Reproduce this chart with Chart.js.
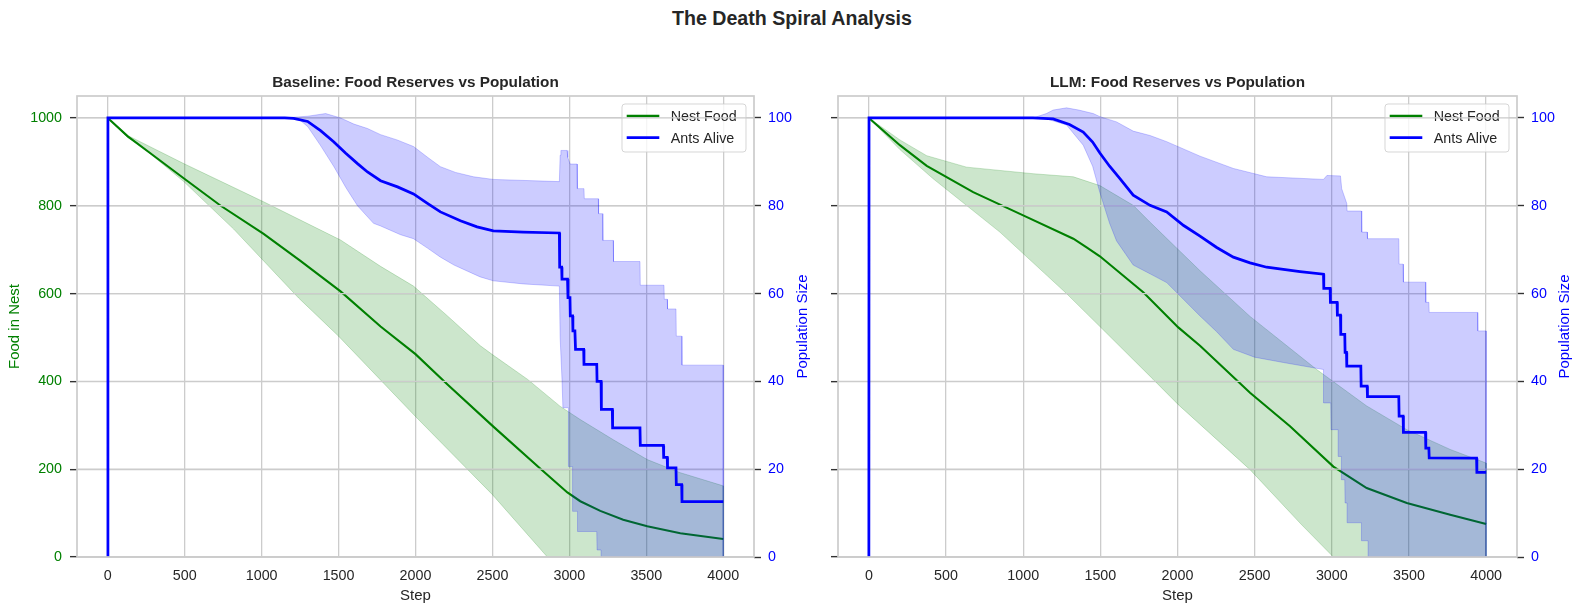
<!DOCTYPE html>
<html>
<head>
<meta charset="utf-8">
<script src="https://cdn.jsdelivr.net/npm/chart.js@4.4.0/dist/chart.umd.min.js"></script>
<style>
  html, body { margin: 0; padding: 0; background: #fff; }
  body { width: 1584px; height: 614px; position: relative; overflow: hidden; font-family: "Liberation Sans", Arial, sans-serif; }
  #suptitle { position: absolute; left: 0; top: 5px; width: 1584px; text-align: center; font-weight: bold; font-size: 19.6px; line-height: 26px; color: #262626; }
  .panel { position: absolute; top: 60px; height: 554px; }
  #leftWrap { left: 0; width: 815px; }
  #rightWrap { left: 815px; width: 769px; }
</style>
</head>
<body>
<div id="suptitle">The Death Spiral Analysis</div>
<div class="panel" id="leftWrap"><canvas id="baseline" width="815" height="554"></canvas></div>
<div class="panel" id="rightWrap"><canvas id="llm" width="769" height="554"></canvas></div>
<script>
// axis ticks
var xTicks = [0, 500, 1000, 1500, 2000, 2500, 3000, 3500, 4000];
var foodTicks = [0, 200, 400, 600, 800, 1000];
var popTicks = [0, 20, 40, 60, 80, 100];

// Baseline run: [step, value]
var baseFoodMean = [[0,1000],[130,958],[279,919],[500,861],[734,800],[1013,736],[1250,675],[1513,605],[1773,525],[2000,462],[2208,393],[2506,297],[2812,201],[2941,161],[2987,147],[3071,127],[3201,105],[3350,85],[3506,70],[3721,54],[4000,41]];
var baseFoodUpper = [[0,1000],[130,960],[500,895],[1013,809],[1513,722],[1773,662],[1987,617],[2208,549],[2422,481],[2500,461],[2727,405],[2941,343],[3071,313],[3286,267],[3506,222],[3721,192],[4000,162]];
var baseFoodLower = [[0,1000],[130,955],[195,942],[494,855],[818,747],[1240,590],[1500,503],[2000,320],[2500,142],[2857,0],[4000,0]];
var basePopMean = [[0,0],[1,100],[1150,100],[1208,99.9],[1299,99.2],[1383,97.1],[1468,94.6],[1545,92],[1623,89.6],[1688,87.7],[1773,85.7],[1883,84.3],[1987,82.7],[2080,80.5],[2162,78.6],[2292,76.6],[2400,75.2],[2506,74.3],[2700,74],[2935,73.8],[2937,66],[2950,66],[2952,63.3],[2988,63.3],[2991,59.1],[3004,59.1],[3006,54.9],[3021,54.9],[3023,51.5],[3036,51.5],[3040,47.3],[3093,47.3],[3095,43.9],[3178,43.9],[3180,40],[3206,40],[3208,33.6],[3279,33.6],[3281,29.4],[3459,29.4],[3461,25.4],[3611,25.4],[3613,22.7],[3636,22.7],[3638,20.3],[3693,20.3],[3695,16.5],[3730,16.5],[3732,12.6],[4000,12.6]];
var basePopUpper = [[1,100],[1150,100],[1300,100.4],[1416,101],[1513,100],[1600,98.6],[1688,97.6],[1773,96.2],[1880,95],[1987,93.5],[2080,91],[2162,88.9],[2260,87.6],[2377,86.6],[2506,86],[2935,85.5],[2940,91.5],[2945,92.6],[2985,92.6],[2990,91],[3005,89.5],[3050,89.5],[3052,83.9],[3095,83.9],[3097,81.6],[3188,81.6],[3190,78.2],[3215,78.2],[3218,72.1],[3285,72.1],[3287,67.3],[3459,67.3],[3461,61.9],[3615,61.9],[3617,58.7],[3636,58.7],[3638,56.5],[3693,56.5],[3695,50.3],[3730,50.3],[3732,43.7],[4000,43.7]];
var basePopLower = [[1,100],[1150,100],[1250,99.5],[1300,98],[1383,93.7],[1468,89],[1550,84],[1623,80],[1727,76],[1773,75.4],[1903,73.4],[1987,72.5],[2080,70.3],[2162,68.3],[2250,66.5],[2338,65.1],[2420,63.8],[2506,62.9],[2700,62.2],[2935,61.7],[2940,50],[2952,40.5],[2958,34],[2994,34],[2996,20.6],[3021,20.6],[3023,10.4],[3053,10.4],[3055,5.8],[3178,5.8],[3180,1.6],[3206,1.6],[3208,0],[4000,0]];

// LLM run
var llmFoodMean = [[0,1000],[201,938],[375,891],[676,831],[1000,778],[1325,725],[1411,705],[1497,685],[1778,603],[2005,523],[2146,481],[2470,374],[2729,298],[3010,206],[3226,157],[3486,123],[3767,96],[4000,75]];
var llmFoodUpper = [[0,1000],[201,950],[375,914],[633,888],[1064,873],[1325,866],[1497,846],[1713,801],[1821,763],[2146,652],[2470,548],[2902,427],[3226,344],[3486,290],[3767,245],[4000,214]];
var llmFoodLower = [[0,1000],[201,928],[415,862],[849,740],[1281,600],[1497,525],[1841,405],[2005,347],[2470,199],[2800,75],[3010,0],[4000,0]];
var llmPopMean = [[0,0],[1,100],[1064,100],[1194,99.8],[1300,98.5],[1389,96.8],[1450,94.5],[1497,92],[1560,89],[1627,86.2],[1713,82.4],[1822,80.1],[1930,78.6],[2040,75.5],[2146,73.1],[2254,70.5],[2362,68.3],[2470,67],[2578,66],[2794,65],[2946,64.4],[2948,61.2],[2989,61.2],[2991,58],[3034,58],[3036,55.1],[3056,55.1],[3058,50.7],[3084,50.7],[3086,46.6],[3095,46.6],[3097,43.5],[3188,43.5],[3190,38.9],[3229,38.9],[3231,36.5],[3434,36.5],[3436,32.1],[3462,32.1],[3464,28.4],[3607,28.4],[3609,24.8],[3629,24.8],[3631,22.6],[3938,22.5],[3940,19.3],[4000,19.3]];
var llmPopUpper = [[1,100],[1064,100],[1150,101],[1194,101.8],[1281,102.3],[1360,101.8],[1454,101],[1497,100.3],[1605,99.1],[1713,97],[1822,96],[1930,94.6],[2146,91.3],[2362,88.5],[2578,86.6],[2946,86],[2968,86.9],[3056,86.8],[3064,83.9],[3097,80.5],[3099,78.8],[3192,78.8],[3194,74],[3229,74],[3231,72.5],[3434,72.5],[3436,66.7],[3462,66.7],[3464,62.6],[3607,62.6],[3609,58],[3629,58],[3631,55.7],[3944,55.7],[3946,51.5],[4000,51.5]];
var llmPopLower = [[1,100],[1064,100],[1150,99.8],[1281,98.4],[1389,93.8],[1450,89],[1497,83],[1560,76],[1605,72],[1713,66.5],[1822,64.5],[1930,62.5],[2038,58.7],[2146,54.9],[2254,51.3],[2362,47.3],[2500,45.5],[2686,44.3],[2946,42.7],[2948,35.1],[2993,35.1],[2995,29],[3041,29],[3043,22.9],[3062,22.9],[3064,17.6],[3084,17.6],[3086,12.3],[3099,12.3],[3101,7.8],[3192,7.8],[3194,3.7],[3235,3.7],[3237,0],[4000,0]];

var FONT = '"Liberation Sans", Arial, sans-serif';
var GRID = '#cccccc';
var DARK = '#262626';
var GREEN = '#008000';
var BLUE = '#0000ff';

Chart.defaults.font.family = FONT;
Chart.defaults.font.size = 14.3;

function pts(list) {
    return list.map(function (p) { return {x: p[0], y: p[1]}; });
}

// closed outline: upper edge forward, lower edge back
function band(upper, lower) {
    return pts(upper.concat(lower.slice().reverse()));
}

function tickList(arr) {
    return function (scale) { scale.ticks = arr.map(function (v) { return {value: v}; }); };
}

function plain(v) { return String(v); }

function drawLegend(ctx, ca) {
    var w = 124, h = 48;
    var lx = ca.right - 8 - w, ly = ca.top + 8;
    ctx.save();
    ctx.beginPath();
    ctx.roundRect(lx, ly, w, h, 3);
    ctx.fillStyle = 'rgba(255,255,255,0.8)';
    ctx.fill();
    ctx.strokeStyle = 'rgba(204,204,204,0.8)';
    ctx.lineWidth = 1;
    ctx.stroke();
    var rows = [['Nest Food', GREEN, 2.5], ['Ants Alive', BLUE, 2.75]];
    ctx.font = '14.3px ' + FONT;
    ctx.textBaseline = 'middle';
    ctx.textAlign = 'left';
    for (var i = 0; i < rows.length; i++) {
        var yy = ly + 12 + i * 21.7;
        ctx.strokeStyle = rows[i][1];
        ctx.lineWidth = rows[i][2];
        ctx.beginPath();
        ctx.moveTo(lx + 4.7, yy);
        ctx.lineTo(lx + 37.3, yy);
        ctx.stroke();
        ctx.fillStyle = DARK;
        ctx.fillText(rows[i][0], lx + 48.7, yy + 1);
    }
    ctx.restore();
}

function decor(title, rightLabelX) {
    return {
        id: 'panelDecor',
        afterDatasetDraw: function (chart, args) {
            if (args.index !== 2) return;
            var ctx = chart.ctx, ca = chart.chartArea, y1 = chart.scales.y1;
            drawLegend(ctx, ca);
            // twin axis grid sits above the food layer
            ctx.save();
            ctx.strokeStyle = GRID;
            ctx.lineWidth = 1.3;
            popTicks.forEach(function (v) {
                var py = y1.getPixelForValue(v);
                ctx.beginPath();
                ctx.moveTo(ca.left, py);
                ctx.lineTo(ca.right, py);
                ctx.stroke();
            });
            ctx.restore();
        },
        afterDatasetsDraw: function (chart) {
            var ctx = chart.ctx, ca = chart.chartArea;
            ctx.save();
            ctx.strokeStyle = GRID;
            ctx.lineWidth = 1.7;
            ctx.strokeRect(ca.left, ca.top, ca.right - ca.left, ca.bottom - ca.top);
            ctx.restore();
        },
        afterDraw: function (chart) {
            var ctx = chart.ctx, ca = chart.chartArea;
            ctx.save();
            ctx.fillStyle = DARK;
            ctx.font = 'bold 15.3px ' + FONT;
            ctx.textAlign = 'center';
            ctx.textBaseline = 'middle';
            ctx.fillText(title, (ca.left + ca.right) / 2, 22.5);
            ctx.translate(rightLabelX, (ca.top + ca.bottom) / 2);
            ctx.rotate(-Math.PI / 2);
            ctx.fillStyle = BLUE;
            ctx.font = '15px ' + FONT;
            ctx.fillText('Population Size', 0, 0);
            ctx.restore();
        }
    };
}

function makePanel(canvasId, o) {
    var datasets = [
        {label: 'Ants Alive', data: pts(o.popMean), yAxisID: 'y1', borderColor: BLUE, borderWidth: 2.75, order: 0},
        {label: 'pop band', data: band(o.popUpper, o.popLower), yAxisID: 'y1', borderColor: 'rgba(0,0,255,0.2)', backgroundColor: 'rgba(0,0,255,0.2)', borderWidth: 1, fill: 'shape', order: 1},
        {label: 'Nest Food', data: pts(o.foodMean), yAxisID: 'y', borderColor: GREEN, borderWidth: 2.1, order: 2},
        {label: 'food band', data: band(o.foodUpper, o.foodLower), yAxisID: 'y', borderColor: 'rgba(0,128,0,0.2)', backgroundColor: 'rgba(0,128,0,0.2)', borderWidth: 1, fill: 'shape', order: 3}
    ];
    return new Chart(document.getElementById(canvasId), {
        type: 'line',
        data: {datasets: datasets},
        options: {
            responsive: false,
            animation: false,
            devicePixelRatio: 1,
            layout: {padding: {top: 36, left: 0, right: 0, bottom: 0}},
            elements: {point: {radius: 0}, line: {tension: 0}},
            plugins: {legend: {display: false}, tooltip: {enabled: false}, title: {display: false}},
            scales: {
                x: {
                    type: 'linear', min: -200, max: 4200,
                    afterBuildTicks: tickList(xTicks),
                    afterFit: function (s) { s.height = 57; },
                    grid: {color: GRID, lineWidth: 1.3, drawTicks: false},
                    border: {display: false},
                    ticks: {color: DARK, padding: 10, maxRotation: 0, callback: plain},
                    title: {display: true, text: 'Step', color: DARK, font: {size: 15}, padding: {top: 0, bottom: 9}}
                },
                y: {
                    type: 'linear', position: 'left', min: 0, max: 1050,
                    afterBuildTicks: tickList(foodTicks),
                    afterFit: function (s) { s.width = o.leftW; },
                    grid: {color: GRID, lineWidth: 1.3, tickLength: 7, tickColor: '#333333', tickWidth: 1.4},
                    border: {display: false},
                    ticks: {color: o.showFood ? GREEN : 'rgba(0,0,0,0)', padding: 8, callback: plain},
                    title: {display: o.showFood, text: 'Food in Nest', color: GREEN, font: {size: 15}, padding: {top: 6, bottom: 0}}
                },
                y1: {
                    type: 'linear', position: 'right', min: 0, max: 105,
                    afterBuildTicks: tickList(popTicks),
                    afterFit: function (s) { s.width = o.rightW; },
                    grid: {drawOnChartArea: false, tickLength: 7, tickColor: '#333333', tickWidth: 1.4},
                    border: {display: false},
                    ticks: {color: BLUE, padding: 7, callback: plain}
                }
            }
        },
        plugins: [decor(o.title, o.labelX)]
    });
}

makePanel('baseline', {
    title: 'Baseline: Food Reserves vs Population',
    foodMean: baseFoodMean, foodUpper: baseFoodUpper, foodLower: baseFoodLower,
    popMean: basePopMean, popUpper: basePopUpper, popLower: basePopLower,
    leftW: 77, rightW: 61, showFood: true, labelX: 803
});

makePanel('llm', {
    title: 'LLM: Food Reserves vs Population',
    foodMean: llmFoodMean, foodUpper: llmFoodUpper, foodLower: llmFoodLower,
    popMean: llmPopMean, popUpper: llmPopUpper, popLower: llmPopLower,
    leftW: 23, rightW: 67, showFood: false, labelX: 750
});
</script>
</body>
</html>
